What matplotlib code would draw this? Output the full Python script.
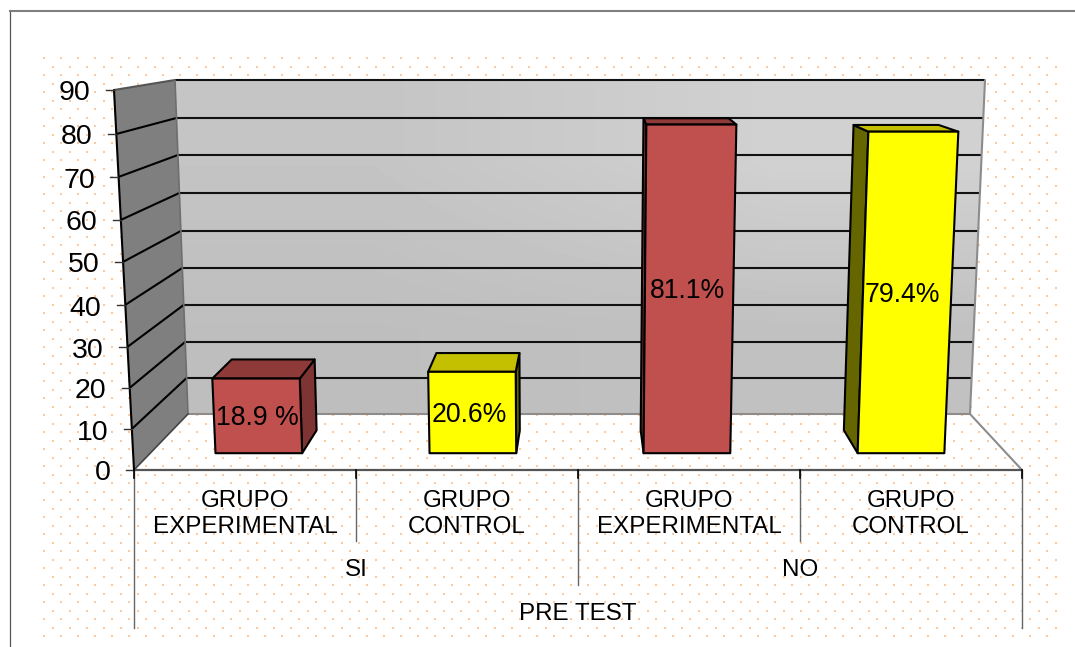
import numpy as np
import matplotlib
matplotlib.use('Agg')
from matplotlib import pyplot as plt
from matplotlib.patches import Polygon

plt.rcParams['font.family'] = ['Liberation Sans', 'DejaVu Sans']

# dados do grafico
grupos = ['GRUPO\nEXPERIMENTAL', 'GRUPO\nCONTROL', 'GRUPO\nEXPERIMENTAL', 'GRUPO\nCONTROL']
respostas = ['SI', 'NO']
titulo_eixo = 'PRE TEST'
valores = [18.9, 20.6, 81.1, 79.4]
rotulos = ['18.9 %', '20.6%', '81.1%', '79.4%']
ticks_y = [0, 10, 20, 30, 40, 50, 60, 70, 80, 90]

# caixa 3D em pixels: plano da frente e parede do fundo
Y_FRENTE = [470, 429, 388, 347, 305, 262, 220, 177, 134, 90]
Y_FUNDO = [414, 378, 342, 305, 268, 231, 193, 155, 118, 80]
ESQ_FRENTE = (134, 114)
DIR_FRENTE = (1022, 1042)
ESQ_FUNDO = (188, 175)
DIR_FUNDO = (970, 985)


def projetar(u, v, d):
    '''
    u = posicao na categoria (0 a 4), v = valor (0 a 90), d = profundidade (0 a 1)
    '''
    t = v / 90
    esq_f = ESQ_FRENTE[0] + (ESQ_FRENTE[1] - ESQ_FRENTE[0]) * t
    dir_f = DIR_FRENTE[0] + (DIR_FRENTE[1] - DIR_FRENTE[0]) * t
    esq_b = ESQ_FUNDO[0] + (ESQ_FUNDO[1] - ESQ_FUNDO[0]) * t
    dir_b = DIR_FUNDO[0] + (DIR_FUNDO[1] - DIR_FUNDO[0]) * t
    esq = esq_f + (esq_b - esq_f) * d
    dir_ = dir_f + (dir_b - dir_f) * d
    yf = np.interp(v, ticks_y, Y_FRENTE)
    yb = np.interp(v, ticks_y, Y_FUNDO)
    return esq + (dir_ - esq) * u / 4, yf + (yb - yf) * d


fig = plt.figure(figsize=(10.75, 6.47), dpi=100)
ax = fig.add_axes([0, 0, 1, 1])

# moldura
ax.plot([10, 10], [11, 647], color='#555555', lw=0.9)
ax.plot([10, 1075], [11, 11], color='#7F7F7F', lw=1.5)

# pontinhos do fundo
for linha, y in enumerate(np.arange(58, 640, 8.5)):
    xs = np.arange(44 + (linha % 2) * 8.5, 1060, 17)
    ax.scatter(xs, np.full(len(xs), y), s=4, marker='s', color='#FFC99C', linewidths=0, zorder=1)

# parede do fundo com gradiente
fundo = [projetar(0, 0, 1), projetar(4, 0, 1), projetar(4, 90, 1), projetar(0, 90, 1)]
grad = np.array([[0.77, 0.82], [0.745, 0.755]])
img = ax.imshow(grad, extent=(175, 985, 414, 80), cmap='gray', vmin=0, vmax=1,
                aspect='auto', interpolation='bilinear', zorder=2)
img.set_clip_path(Polygon(fundo, transform=ax.transData))

# parede da esquerda
lateral = [projetar(0, 0, 0), projetar(0, 0, 1), projetar(0, 90, 1), projetar(0, 90, 0)]
ax.add_patch(Polygon(lateral, closed=True, facecolor='#7F7F7F', edgecolor='none', zorder=2))

# grades
for v in ticks_y[1:]:
    pts = np.array([projetar(0, v, 0), projetar(0, v, 1), projetar(4, v, 1)])
    cor = '#555555' if v == 90 else 'black'
    ax.plot(pts[:2, 0], pts[:2, 1], color=cor, lw=1.5, zorder=3, solid_capstyle='butt')
    ax.plot(pts[1:, 0], pts[1:, 1], color='#111111', lw=1.5, zorder=3, solid_capstyle='butt')

# contornos da caixa
for a, b, cor, lw in [
    (projetar(0, 0, 1), projetar(4, 0, 1), '#8C8C8C', 1.5),
    (projetar(4, 0, 1), projetar(4, 90, 1), '#8C8C8C', 1.5),
    (projetar(4, 0, 1), projetar(4, 0, 0), '#8C8C8C', 1.5),
    (projetar(0, 0, 1), projetar(0, 90, 1), '#6E6E6E', 1.2),
    (projetar(0, 0, 0), projetar(0, 0, 1), '#444444', 1.2),
    (projetar(0, 0, 0), projetar(4, 0, 0), '#555555', 1.6),
    (projetar(0, 0, 0), projetar(0, 90, 0), 'black', 1.5),
]:
    ax.plot([a[0], b[0]], [a[1], b[1]], color=cor, lw=lw, zorder=3, solid_capstyle='round')

# ticks e rotulos do eixo y
for v in ticks_y:
    x, y = projetar(0, v, 0)
    ax.plot([x - 8, x], [y, y], color='#333333', lw=1.0, zorder=3)
    ax.text(x - 23.5, y + 0.5, str(v), ha='right', va='center_baseline', fontsize=20.5, color='black', zorder=6)

# barras
U_INI, U_FIM = 0.305, 0.71
D_INI, D_FIM = 0.3, 0.71
cores_barra = [('#C0504D', '#8E3A38', '#7E3432'), ('#FFFF00', '#C4C000', '#666600')]
desloc_rotulo = [0, -3, -2, -5]

for i, v in enumerate(valores):
    frente, topo, lado = cores_barra[i % 2]
    u0, u1 = i + U_INI, i + U_FIM
    if i < 2:
        ulado = u1
    else:
        ulado = u0
    pol_lado = [projetar(ulado, 0, D_INI), projetar(ulado, 0, D_FIM), projetar(ulado, v, D_FIM), projetar(ulado, v, D_INI)]
    pol_topo = [projetar(u0, v, D_INI), projetar(u1, v, D_INI), projetar(u1, v, D_FIM), projetar(u0, v, D_FIM)]
    pol_frente = [projetar(u0, 0, D_INI), projetar(u1, 0, D_INI), projetar(u1, v, D_INI), projetar(u0, v, D_INI)]
    for pol, cor in [(pol_lado, lado), (pol_topo, topo), (pol_frente, frente)]:
        ax.add_patch(Polygon(pol, closed=True, facecolor=cor, edgecolor='black', lw=1.5,
                             joinstyle='round', zorder=4))
    cx = np.mean([p[0] for p in pol_frente]) + desloc_rotulo[i]
    cy = np.mean([p[1] for p in pol_frente])
    ax.text(cx, cy - 0.5, rotulos[i], ha='center', va='center_baseline', fontsize=19.2, color='black', zorder=6)

# eixo x com niveis
x_base = [projetar(u, 0, 0)[0] for u in range(5)]
y_base = projetar(0, 0, 0)[1]
fim_linha = [628, 541, 585, 541, 628]
for x, fim in zip(x_base, fim_linha):
    ax.plot([x, x], [y_base, fim], color='#666666', lw=1.0, zorder=3)
    ax.plot([x, x], [y_base, y_base + 8], color='black', lw=1.2, zorder=3)

for i, g in enumerate(grupos):
    cx = (x_base[i] + x_base[i + 1]) / 2
    ax.text(cx, 514, g, ha='center', va='center', fontsize=17.4, color='black', linespacing=1.24, zorder=6)
for i, r in enumerate(respostas):
    cx = (x_base[2 * i] + x_base[2 * i + 2]) / 2
    ax.text(cx, 570, r, ha='center', va='center', fontsize=17.4, color='black', zorder=6)
ax.text((x_base[0] + x_base[4]) / 2, 614, titulo_eixo, ha='center', va='center', fontsize=17.4, color='black', zorder=6)

ax.set_xlim(0, 1075)
ax.set_ylim(647, 0)
ax.axis('off')
fig.savefig('out.png', dpi=100, facecolor='white')
